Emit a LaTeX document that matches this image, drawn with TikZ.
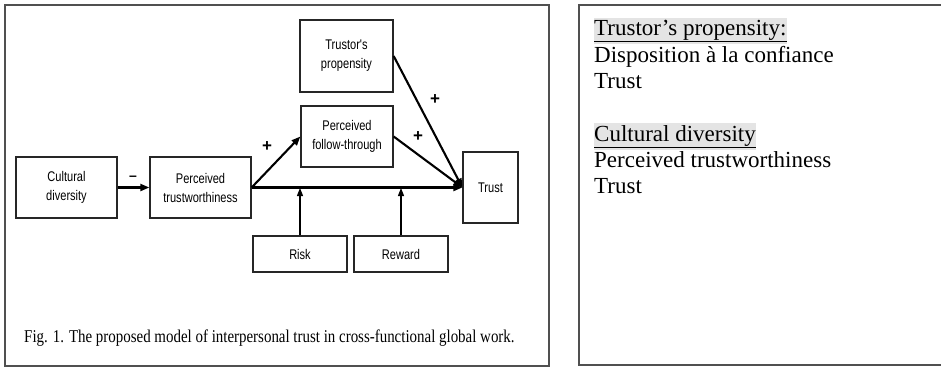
\documentclass[tikz,border=0pt]{standalone}
\usepackage{fontspec}
\setmainfont{Liberation Serif}
\newfontfamily\boxfont[FakeStretch=0.79]{Liberation Sans}
\newfontfamily\signfont{Liberation Sans}
\newfontfamily\capfont[FakeStretch=0.83]{Liberation Serif}
\usetikzlibrary{arrows.meta}
\definecolor{framegray}{HTML}{505050}
\definecolor{hlgray}{HTML}{E4E4E4}
\begin{document}
\begin{tikzpicture}[x=1pt,y=-1pt,
  modelbox/.style={draw=black!85,line width=1.3pt,inner sep=0pt,align=center,
    font=\boxfont\fontsize{14}{19}\selectfont},
  conn/.style={line width=2.1pt,-{Triangle[length=9pt,width=7pt]}},
  thinconn/.style={line width=1.3pt,-{Triangle[length=8pt,width=6pt]}},
  sign/.style={font=\signfont\bfseries\fontsize{17}{17}\selectfont},
  paneltext/.style={anchor=base west,inner sep=0pt,font=\fontsize{23}{26}\selectfont},
  hl/.style={paneltext,fill=hlgray,inner ysep=2pt,inner xsep=0pt}]
\useasboundingbox (0,0) rectangle (941,368);
% frames
\draw[framegray,line width=1.5pt] (5,5) rectangle (549,366);
\draw[framegray,line width=1.5pt] (941,5) -- (579,5) -- (579,365) -- (941,365);
% model boxes
\node[modelbox,minimum width=101pt,minimum height=61pt] (cd) at (66.5,187.5) {Cultural\\diversity};
\node[modelbox,minimum width=101pt,minimum height=61pt] (pt) at (200.5,187.5) {Perceived\\trustworthiness};
\node[modelbox,minimum width=93pt,minimum height=72pt] (tp) at (346.5,56) {Trustor's\\propensity};
\node[modelbox,minimum width=92pt,minimum height=61pt] (pf) at (347,136.5) {Perceived\\follow-through};
\node[modelbox,minimum width=55pt,minimum height=71pt] (tr) at (490.5,187.5) {Trust};
\node[modelbox,minimum width=94pt,minimum height=36pt] (risk) at (300,254) {Risk};
\node[modelbox,minimum width=94pt,minimum height=36pt] (rew) at (401,254) {Reward};
\coordinate (riskend) at (300,188);
\coordinate (rewend) at (401,188);
% connectors
\draw[conn] (cd) -- (pt);
\draw[conn] (pt.east) -- (tr.west);
\draw[conn] (pt.east) -- (pf.west);
\draw[conn] (tp.east) -- (tr.west);
\draw[conn] (pf.east) -- (tr.west);
\draw[thinconn] (risk.north) -- (riskend);
\draw[thinconn] (rew.north) -- (rewend);
% signs
\node[font=\signfont\bfseries\fontsize{14}{14}\selectfont] (minus) at (133,178) {–};
\node[sign] (p1) at (267,147) {+};
\node[sign] (p2) at (435,100) {+};
\node[sign] (p3) at (418,137) {+};
% caption
\node[anchor=base west,inner sep=0pt,font=\capfont\fontsize{18}{20}\selectfont] (cap) at (24,342)
  {Fig. 1. The proposed model of interpersonal trust in cross-functional global work.};
% right panel
\node[hl] (h1) at (594,35) {\underline{Trustor’s propensity:}};
\node[paneltext] (l2) at (594,62) {Disposition à la confiance};
\node[paneltext] (l3) at (594,88) {Trust};
\node[hl] (h2) at (594,141) {\underline{Cultural diversity}};
\node[paneltext] (l5) at (594,167) {Perceived trustworthiness};
\node[paneltext] (l6) at (594,193) {Trust};
\end{tikzpicture}
\end{document}
